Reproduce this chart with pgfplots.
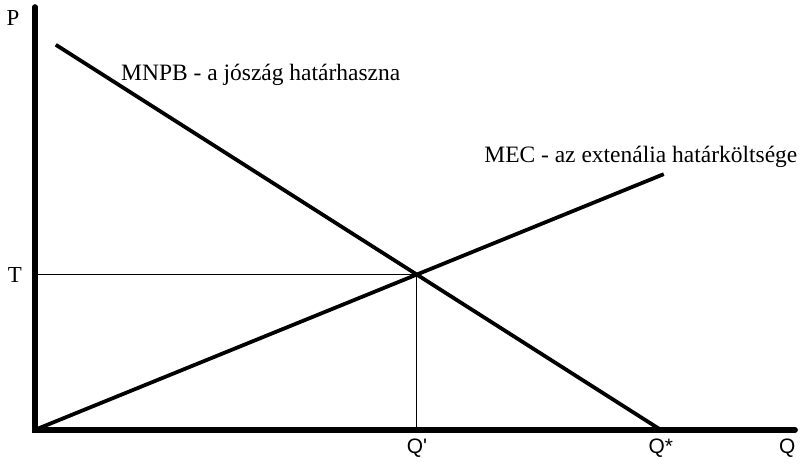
\documentclass[border=0pt]{standalone}
\usepackage{fontspec}
\setmainfont{Liberation Serif}
\newfontfamily\qfont{Liberation Sans}
\usepackage{pgfplots}
\pgfplotsset{compat=1.18}

\begin{document}
\begin{tikzpicture}
% data units are pixels of the 804x462 reference, y measured upward
\begin{axis}[
    width=402pt, height=231pt, scale only axis,
    xmin=0, xmax=804, ymin=0, ymax=462,
    hide axis, clip=false,
]
\path (axis cs:0,0) rectangle (axis cs:804,462);
% axes
\addplot[black, line width=2.8pt, line cap=round] coordinates {(34,455) (34,30) (798,30)};
% MNPB
\addplot[black, line width=1.9pt] coordinates {(55,417) (663,30)};
% MEC
\addplot[black, line width=1.9pt] coordinates {(34,30) (666,287)};
% guides to the intersection
\addplot[black, line width=0.5pt] coordinates {(34,186) (418,186) (418,30)};

\node[font=\fontsize{11.5}{12}\selectfont] at (axis cs:12,444) {P};
\node[font=\fontsize{11.5}{12}\selectfont] at (axis cs:14,186) {T};
\node[font=\fontsize{11.8}{13}\selectfont] at (axis cs:261,387) {MNPB - a jószág határhaszna};
\node[font=\fontsize{11.8}{13}\selectfont] at (axis cs:643,304) {MEC - az extenália határköltsége};
\node[font=\qfont\fontsize{10.5}{12}\selectfont] at (axis cs:418,12) {Q'};
\node[font=\qfont\fontsize{10.5}{12}\selectfont] at (axis cs:663,12) {Q*};
\node[font=\qfont\fontsize{10.5}{12}\selectfont] at (axis cs:790,12) {Q};
\end{axis}
\end{tikzpicture}
\end{document}
